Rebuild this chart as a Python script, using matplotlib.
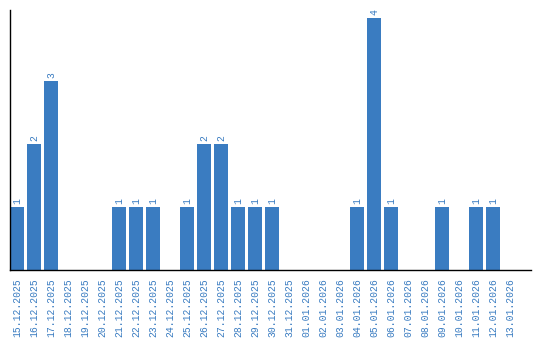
import matplotlib
matplotlib.use('Agg')
from matplotlib import pyplot as plt

dates = ['15.12.2025', '16.12.2025', '17.12.2025', '18.12.2025', '19.12.2025',
         '20.12.2025', '21.12.2025', '22.12.2025', '23.12.2025', '24.12.2025',
         '25.12.2025', '26.12.2025', '27.12.2025', '28.12.2025', '29.12.2025',
         '30.12.2025', '31.12.2025', '01.01.2026', '02.01.2026', '03.01.2026',
         '04.01.2026', '05.01.2026', '06.01.2026', '07.01.2026', '08.01.2026',
         '09.01.2026', '10.01.2026', '11.01.2026', '12.01.2026', '13.01.2026']
counts = [1, 2, 3, 0, 0, 0, 1, 1, 1, 0, 1, 2, 2, 1, 1, 1, 0, 0, 0, 0,
          1, 4, 1, 0, 0, 1, 0, 1, 1, 0]

blue = '#3a7cc1'
mono = 'Liberation Mono'

fig = plt.figure(figsize=(5.4, 3.4), dpi=100)
ax = fig.add_axes([10 / 540, 70 / 340, 521 / 540, 260 / 340])

x = range(len(dates))
bars = ax.bar(x, counts, width=14 / 17, color=blue)
for xi, v in zip(x, counts):
    if v > 0:
        ax.text(xi, v + 0.04, str(v), rotation=90, ha='center', va='bottom',
                color=blue, fontsize=7, family=mono)

ax.set_xlim(-7 / 17, (521 - 7) / 17)
ax.set_ylim(0, 260 / 63)
ax.set_xticks(list(x))
ax.set_xticklabels(dates, rotation=90, color=blue, fontsize=7, family=mono)
ax.tick_params(axis='x', length=0, pad=6)
ax.set_yticks([])
for s in ['top', 'right']:
    ax.spines[s].set_visible(False)
for s in ['left', 'bottom']:
    ax.spines[s].set_linewidth(1.0)
    ax.spines[s].set_color('black')

fig.savefig('out.png', dpi=100)
